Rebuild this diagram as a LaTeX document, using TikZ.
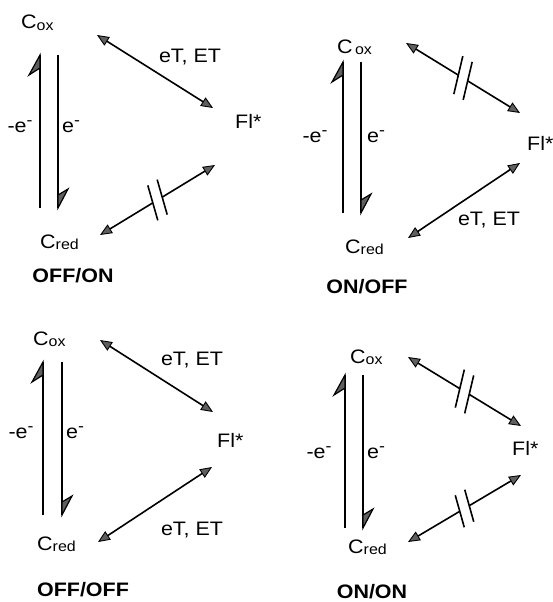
\documentclass[tikz,border=0pt]{standalone}
\usepackage{fontspec}
\setmainfont{Liberation Sans}[FakeStretch=1.1]
\usetikzlibrary{arrows.meta,calc}

\definecolor{headgray}{RGB}{95,95,95}

% smaller, slightly lowered suffix (ox, red)
\newcommand\lowtxt[1]{\raisebox{-1.5pt}{\fontsize{14.5}{15}\selectfont #1}}
% raised minus sign of the electron
\newcommand\elminus{\raisebox{6.5pt}{\fontsize{16}{16}\selectfont -}}

% half heads of the redox arrows: barb left of an upward tip, right of a downward tip
\newcommand\uphead[1]{\filldraw[halfhead] (#1) -- ++(-11,20) -- ++(11,-7) -- cycle;}
\newcommand\downhead[1]{\filldraw[halfhead] (#1) -- ++(10,-19) -- ++(-10,6) -- cycle;}

% double-headed link interrupted by two bars at its middle
% #1,#2: end coordinates; #3,#4: half vector of each bar
\newcommand\brokenlink[4]{%
  \coordinate (#1-#2-m) at ($(#1)!0.5!(#2)$);
  \coordinate (#1-#2-p) at ($(#1-#2-m)!5.5pt!(#1)$);
  \coordinate (#1-#2-q) at ($(#1-#2-m)!5.5pt!(#2)$);
  \draw[halfxfer] (#1-#2-p) -- (#1);
  \draw[halfxfer] (#1-#2-q) -- (#2);
  \draw[crossbar] ($(#1-#2-p)-(#3,#4)$) -- ($(#1-#2-p)+(#3,#4)$);
  \draw[crossbar] ($(#1-#2-q)-(#3,#4)$) -- ($(#1-#2-q)+(#3,#4)$);
}

\tikzset{
  lbl/.style={anchor=base west, inner sep=0pt, font=\fontsize{19.5}{21}\selectfont},
  clbl/.style={anchor=base, inner sep=0pt, font=\fontsize{19.5}{21}\selectfont},
  tag/.style={anchor=base, inner sep=0pt, font=\fontsize{19.5}{21}\selectfont\bfseries},
  xtip/.tip={Triangle[length=12pt, width=10pt, fill=headgray, line width=0.9pt]},
  shaft/.style={line width=2.6pt},
  halfhead/.style={fill=headgray, draw=black, line width=1.2pt, line join=miter},
  xfer/.style={line width=1.6pt, xtip-xtip},
  halfxfer/.style={line width=1.6pt, -xtip},
  crossbar/.style={line width=1.6pt},
}

\begin{document}
\begin{tikzpicture}[x=1pt, y=-1pt]
\useasboundingbox (0,0) rectangle (552,602);

% ---------- OFF/ON ----------
\node[lbl] (cox1) at (21,29) {C\lowtxt{ox}};
\node[lbl] (cred1) at (40,248) {C\lowtxt{red}};
\node[lbl] (fl1) at (235,128) {Fl*};
\node[clbl] (ox1) at (20,132) {-e\elminus};
\node[clbl] (rd1) at (71,132) {e\elminus};
\node[clbl] (et1) at (190,63) {eT, ET};
\node[tag] (t1) at (73,282) {OFF/ON};
\coordinate (l1b) at (40,208); \coordinate (l1t) at (40,55);
\coordinate (r1t) at (58,55);  \coordinate (r1b) at (58,208);
\draw[shaft] (l1b) -- (l1t); \uphead{l1t}
\draw[shaft] (r1t) -- (r1b); \downhead{r1b}
\coordinate (u1a) at (97,35);  \coordinate (u1b) at (213,108);
\draw[xfer] (u1a) -- (u1b);
\coordinate (d1a) at (215,165); \coordinate (d1b) at (100,235);
\brokenlink{d1a}{d1b}{5}{17.5}

% ---------- ON/OFF ----------
\node[lbl] (cox2) at (337,53) {C\lowtxt{\,ox}};
\node[lbl] (cred2) at (345,253) {C\lowtxt{red}};
\node[lbl] (fl2) at (527,150) {Fl*};
\node[clbl] (ox2) at (315,142) {-e\elminus};
\node[clbl] (rd2) at (376,142) {e\elminus};
\node[clbl] (et2) at (489,225) {eT, ET};
\node[tag] (t2) at (367,293) {ON/OFF};
\coordinate (l2b) at (343,213); \coordinate (l2t) at (343,62);
\coordinate (r2t) at (361,62);  \coordinate (r2b) at (361,213);
\draw[shaft] (l2b) -- (l2t); \uphead{l2t}
\draw[shaft] (r2t) -- (r2b); \downhead{r2b}
\coordinate (u2a) at (406,43);  \coordinate (u2b) at (520,113);
\brokenlink{u2a}{u2b}{-4.5}{19}
\coordinate (d2a) at (520,163); \coordinate (d2b) at (408,238);
\draw[xfer] (d2a) -- (d2b);

% ---------- OFF/OFF ----------
\node[lbl] (cox3) at (33,345) {C\lowtxt{ox}};
\node[lbl] (cred3) at (37,550) {C\lowtxt{red}};
\node[lbl] (fl3) at (217,447) {Fl*};
\node[clbl] (ox3) at (21,438) {-e\elminus};
\node[clbl] (rd3) at (75,438) {e\elminus};
\node[clbl] (et3) at (192,365) {eT, ET};
\node[clbl] (et3b) at (192,535) {eT, ET};
\node[tag] (t3) at (83,596) {OFF/OFF};
\coordinate (l3b) at (43,515); \coordinate (l3t) at (43,362);
\coordinate (r3t) at (62,362); \coordinate (r3b) at (62,515);
\draw[shaft] (l3b) -- (l3t); \uphead{l3t}
\draw[shaft] (r3t) -- (r3b); \downhead{r3b}
\coordinate (u3a) at (100,340); \coordinate (u3b) at (213,412);
\draw[xfer] (u3a) -- (u3b);
\coordinate (d3a) at (212,467); \coordinate (d3b) at (98,542);
\draw[xfer] (d3a) -- (d3b);

% ---------- ON/ON ----------
\node[lbl] (cox4) at (350,363) {C\lowtxt{ox}};
\node[lbl] (cred4) at (348,553) {C\lowtxt{red}};
\node[lbl] (fl4) at (512,455) {Fl*};
\node[clbl] (ox4) at (319,458) {-e\elminus};
\node[clbl] (rd4) at (376,458) {e\elminus};
\node[tag] (t4) at (372,598) {ON/ON};
\coordinate (l4b) at (345,528); \coordinate (l4t) at (345,375);
\coordinate (r4t) at (363,375); \coordinate (r4b) at (363,528);
\draw[shaft] (l4b) -- (l4t); \uphead{l4t}
\draw[shaft] (r4t) -- (r4b); \downhead{r4b}
\coordinate (u4a) at (408,357); \coordinate (u4b) at (521,426);
\brokenlink{u4a}{u4b}{-4.5}{19}
\coordinate (d4a) at (521,475); \coordinate (d4b) at (408,542);
\brokenlink{d4a}{d4b}{4.5}{16}
\end{tikzpicture}
\end{document}
